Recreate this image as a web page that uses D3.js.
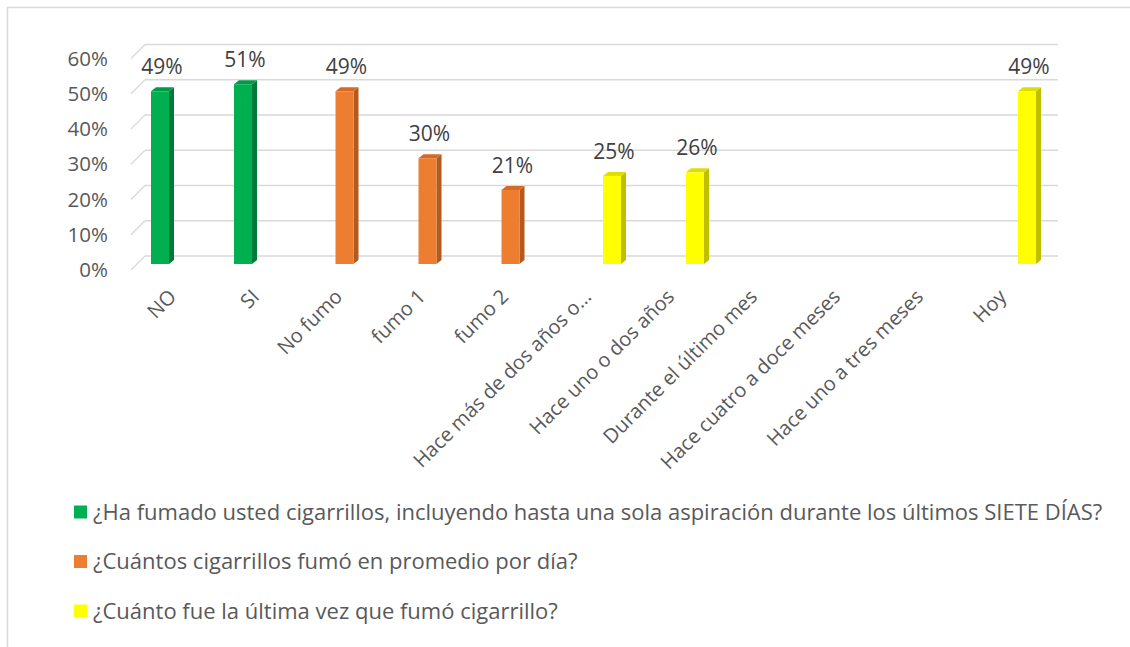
<!DOCTYPE html>
<html>
<head>
<meta charset="utf-8">
<script src="https://cdn.jsdelivr.net/npm/d3@7"></script>
<style>
  body { margin: 0; background: #fff; }
  svg { display: block; font-family: "Open Sans", sans-serif; }
</style>
</head>
<body>
<div id="chart"></div>
<script>
// categories on the x axis
const categories = ["NO", "SI", "No fumo", "fumo 1", "fumo 2", "Hace más de dos años o…",
  "Hace uno o dos años", "Durante el último mes", "Hace cuatro a doce meses",
  "Hace uno a tres meses", "Hoy"];

// series names (legend)
const seriesNames = [
  "¿Ha fumado usted cigarrillos, incluyendo hasta una sola aspiración durante los últimos SIETE DÍAS?",
  "¿Cuántos cigarrillos fumó en promedio por día?",
  "¿Cuánto fue la última vez que fumó cigarrillo?"
];

// values per series (null = no bar)
const seriesFumado = [0.49, 0.51, null, null, null, null, null, null, null, null, null];
const seriesCuantos = [null, null, 0.49, 0.30, 0.21, null, null, null, null, null, null];
const seriesUltima = [null, null, null, null, null, 0.25, 0.26, 0, 0, 0, 0.49];

const yTicks = [0, 0.1, 0.2, 0.3, 0.4, 0.5, 0.6];

const allSeries = [seriesFumado, seriesCuantos, seriesUltima];
const colors = [
  { front: "#00b050", side: "#007a38", top: "#019a47" },
  { front: "#ed7d31", side: "#b35a1f", top: "#d46a25" },
  { front: "#ffff00", side: "#bfbf00", top: "#dede00" }
];

const W = 1130, H = 647;
const svg = d3.select("#chart").append("svg")
  .attr("width", W)
  .attr("height", H);

// outer frame (only top / left visible)
svg.append("rect")
  .attr("x", 7.5).attr("y", 7.5)
  .attr("width", 1200).attr("height", 700)
  .attr("fill", "none")
  .attr("stroke", "#d9d9d9")
  .attr("stroke-width", 1.5);

// back wall geometry and 3d depth
const depthX = 14, depthY = 14;   // floor depth
const barShift = 8;               // bars plane offset from back wall
const backLeft = 145, backRight = 1058;

const y = d3.scaleLinear().domain([0, 0.6]).range([256, 44.5]);

const x0 = d3.scaleBand()
  .domain(categories)
  .range([backLeft - barShift * depthX / depthY, backRight - barShift * depthX / depthY])
  .padding(0);
const x1 = d3.scaleBand()
  .domain(d3.range(allSeries.length))
  .range([x0.bandwidth() / 2 - 27.75, x0.bandwidth() / 2 + 27.75]);

// gridlines
const grid = svg.append("g");
grid.selectAll("line.h").data(yTicks).join("line")
  .attr("class", "h")
  .attr("x1", backLeft).attr("x2", backRight)
  .attr("y1", d => y(d)).attr("y2", d => y(d))
  .attr("stroke", "#d9d9d9").attr("stroke-width", 1.3);
grid.selectAll("line.d").data(yTicks).join("line")
  .attr("class", "d")
  .attr("x1", backLeft - depthX).attr("x2", backLeft)
  .attr("y1", d => y(d) + depthY).attr("y2", d => y(d))
  .attr("stroke", "#d9d9d9").attr("stroke-width", 1.3);

// y axis labels
svg.append("g").selectAll("text").data(yTicks).join("text")
  .attr("x", 108)
  .attr("y", d => y(d) + depthY)
  .attr("dy", "0.35em")
  .attr("text-anchor", "end")
  .attr("font-size", 20.5)
  .attr("fill", "#595959")
  .text(d => d3.format(".0%")(d));

// bars
const bw = 18, dx = 5, dy = 4;
const barData = [];
allSeries.forEach((vals, s) => vals.forEach((v, i) => {
  if (v !== null) barData.push({ s, cat: categories[i], value: v });
}));

const bars = svg.append("g").selectAll("g").data(barData).join("g");
const bx = d => x0(d.cat) + x1(d.s) + (x1.bandwidth() - bw) / 2;
const bTop = d => y(d.value) + barShift;
const bBot = d => y(0) + barShift;

bars.filter(d => d.value > 0).append("path")
  .attr("d", d => `M${bx(d) + bw},${bTop(d)} L${bx(d) + bw + dx},${bTop(d) - dy} L${bx(d) + bw + dx},${bBot(d) - dy} L${bx(d) + bw},${bBot(d)} Z`)
  .attr("fill", d => colors[d.s].side);
bars.filter(d => d.value > 0).append("path")
  .attr("d", d => `M${bx(d)},${bTop(d)} L${bx(d) + dx},${bTop(d) - dy} L${bx(d) + bw + dx},${bTop(d) - dy} L${bx(d) + bw},${bTop(d)} Z`)
  .attr("fill", d => colors[d.s].top);
bars.filter(d => d.value > 0).append("rect")
  .attr("x", bx)
  .attr("y", bTop)
  .attr("width", bw)
  .attr("height", d => bBot(d) - bTop(d))
  .attr("fill", d => colors[d.s].front);

// data labels
bars.filter(d => d.value > 0).append("text")
  .attr("x", d => bx(d) + bw / 2 + 2)
  .attr("y", d => bTop(d) - 17)
  .attr("text-anchor", "middle")
  .attr("font-size", 21)
  .attr("fill", "#404040")
  .text(d => d3.format(".0%")(d.value));

// x axis labels, rotated
svg.append("g").selectAll("text").data(categories).join("text")
  .attr("transform", d => `translate(${x0(d) + x0.bandwidth() / 2 - 1},298) rotate(-45)`)
  .attr("text-anchor", "end")
  .attr("font-size", 20)
  .attr("fill", "#595959")
  .text(d => d);

// legend
const legend = svg.append("g").selectAll("g").data(seriesNames).join("g")
  .attr("transform", (d, i) => `translate(74,${512 + i * 49.5})`);
legend.append("rect")
  .attr("x", 0).attr("y", -6.5)
  .attr("width", 13).attr("height", 13)
  .attr("fill", (d, i) => colors[i].front);
legend.append("text")
  .attr("x", 19)
  .attr("dy", "0.35em")
  .attr("font-size", 22)
  .attr("fill", "#595959")
  .text(d => d);
</script>
</body>
</html>
